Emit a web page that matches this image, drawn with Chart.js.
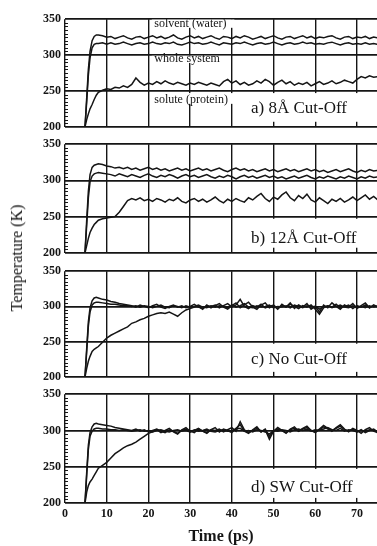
<!DOCTYPE html>
<html>
<head>
<meta charset="utf-8">
<script src="https://cdn.jsdelivr.net/npm/chart.js@4.4.0/dist/chart.umd.min.js"></script>
<style>
  html, body { margin: 0; padding: 0; background: #fff; overflow: hidden; }
  body { width: 377px; height: 546px; position: relative; }
  canvas { position: absolute; left: 0; }
  #ylab {
    position: absolute; left: 17px; top: 258px;
    transform: translate(-50%, -50%) rotate(-90deg);
    font: 16px 'Liberation Serif', 'Times New Roman', serif;
    white-space: nowrap; color: #111;
  }
</style>
</head>
<body>
<canvas id="pa"></canvas>
<canvas id="pb"></canvas>
<canvas id="pc"></canvas>
<canvas id="pd"></canvas>
<div id="ylab">Temperature (K)</div>
<script>
// time axis (ps)
const time = [4.8, 5.2, 5.6, 6, 6.5, 7, 7.5, 8, 9, 10,
  11, 12, 13, 14, 15, 16, 17, 18, 19, 20, 21, 22, 23, 24, 25, 26, 27, 28, 29, 30,
  31, 32, 33, 34, 35, 36, 37, 38, 39, 40, 41, 42, 43, 44, 45, 46, 47, 48, 49, 50,
  51, 52, 53, 54, 55, 56, 57, 58, 59, 60, 61, 62, 63, 64, 65, 66, 67, 68, 69, 70,
  71, 72, 73, 74, 75];
const xTicks = [0, 10, 20, 30, 40, 50, 60, 70];
const yTicks = [200, 250, 300, 350];

// a) 8 A cut-off
const solventA = [200, 240, 280, 305, 320, 326, 328, 328, 327, 325,
  326, 323, 325, 327, 324, 322, 325, 326, 323, 325, 327, 324, 326, 323, 325, 328, 324, 322, 325, 327,
  324, 326, 323, 325, 327, 324, 322, 326, 325, 323, 326, 324, 327, 325, 322, 324, 326, 323, 325, 327,
  324, 322, 325, 326, 323, 325, 327, 324, 326, 323, 325, 324, 326, 327, 324, 322, 325, 326, 323, 325,
  324, 326, 323, 325, 324];
const wholeA = [200, 235, 272, 296, 310, 315, 316, 316, 317, 315,
  317, 315, 316, 318, 316, 314, 316, 317, 315, 316, 318, 316, 315, 317, 316, 318, 315, 314, 316, 318,
  316, 317, 315, 316, 318, 316, 314, 317, 316, 315, 317, 316, 318, 316, 314, 316, 317, 315, 316, 318,
  316, 314, 316, 317, 315, 316, 318, 316, 317, 315, 316, 315, 317, 318, 316, 314, 316, 317, 315, 316,
  315, 317, 315, 316, 315];
const soluteA = [200, 210, 218, 225, 231, 238, 244, 248, 251, 253,
  252, 255, 254, 257, 255, 259, 268, 262, 258, 261, 259, 263, 260, 264, 261, 259, 262, 260, 258, 261,
  259, 262, 260, 258, 261, 259, 257, 263, 266, 261, 264, 259, 262, 258, 260, 264, 261, 266, 263, 258,
  262, 265, 260, 263, 258, 261, 259, 262, 257, 260, 263, 259, 261, 264, 260, 262, 265, 263, 261, 266,
  270, 268, 271, 269, 270];

// b) 12 A cut-off
const solventB = [200, 245, 285, 308, 318, 321, 322, 323, 322, 320,
  319, 317, 318, 316, 318, 315, 317, 314, 316, 318, 315, 317, 314, 316, 313, 315, 317, 314, 316, 313,
  315, 317, 314, 316, 313, 315, 317, 314, 312, 315, 317, 314, 316, 313, 315, 312, 314, 316, 313, 315,
  312, 314, 316, 313, 315, 312, 314, 316, 313, 315, 312, 314, 311, 313, 315, 312, 314, 316, 313, 311,
  314, 312, 315, 313, 314];
const wholeB = [200, 238, 276, 298, 306, 309, 310, 311, 310, 309,
  308, 306, 309, 307, 305, 308, 306, 304, 307, 309, 306, 304, 307, 305, 308, 306, 303, 306, 308, 305,
  307, 304, 306, 308, 305, 303, 306, 304, 307, 305, 302, 305, 307, 304, 306, 303, 305, 307, 304, 306,
  303, 305, 302, 304, 306, 303, 305, 307, 304, 302, 305, 303, 306, 304, 302, 305, 303, 306, 304, 302,
  305, 303, 306, 304, 305];
const soluteB = [200, 210, 220, 228, 234, 239, 242, 245, 247, 248,
  249, 250, 256, 264, 272, 275, 273, 276, 272, 274, 271, 275, 273, 270, 274, 272, 276, 271, 269, 273,
  275, 271, 274, 270, 273, 277, 272, 269, 274, 271, 275, 272, 270, 276, 273, 278, 282, 275, 271, 277,
  274, 280, 284, 276, 272, 279, 275, 281, 273, 270, 276, 272, 268, 274, 271, 275, 270, 273, 277, 272,
  276, 280, 274, 278, 273];

// c) no cut-off
const solventC = [200, 240, 278, 298, 308, 312, 313, 312, 310, 309,
  307, 306, 304, 303, 302, 301, 299, 302, 300, 298, 301, 303, 299, 297, 300, 302, 299, 301, 298, 300,
  303, 299, 297, 301, 300, 302, 298, 301, 304, 299, 302, 310, 300, 297, 301, 299, 303, 298, 300, 302,
  297, 301, 299, 303, 300, 297, 301, 299, 302, 296, 289, 298, 301, 299, 303, 298, 300, 302, 297, 301,
  299, 302, 298, 301, 300];
const wholeC = [200, 236, 272, 292, 302, 305, 306, 306, 305, 304,
  303, 303, 302, 301, 301, 300, 301, 299, 301, 300, 298, 300, 302, 299, 298, 301, 300, 298, 301, 299,
  300, 302, 299, 298, 301, 299, 301, 300, 298, 302, 299, 301, 304, 299, 298, 301, 299, 300, 302, 298,
  300, 299, 301, 298, 302, 300, 298, 301, 299, 300, 296, 299, 301, 298, 300, 302, 299, 298, 301, 299,
  300, 298, 301, 299, 300];
const soluteC = [200, 212, 222, 229, 236, 239, 241, 243, 249, 255,
  259, 262, 265, 268, 271, 276, 278, 281, 283, 286, 288, 290, 291, 290, 292, 289, 286, 291, 295, 297,
  299, 300, 296, 302, 298, 301, 304, 299, 296, 301, 305, 298, 302, 306, 299, 296, 302, 305, 298, 301,
  296, 303, 299, 305, 297, 302, 299, 304, 296, 300, 292, 302, 298, 305, 300, 296, 302, 299, 304, 297,
  301, 305, 298, 302, 299];

// d) SW cut-off
const solventD = [200, 242, 280, 297, 305, 309, 310, 309, 308, 307,
  306, 304, 303, 302, 301, 300, 302, 299, 301, 298, 300, 302, 299, 297, 301, 299, 296, 300, 302, 298,
  300, 303, 299, 297, 301, 300, 302, 298, 301, 304, 299, 312, 301, 297, 300, 303, 298, 301, 288, 299,
  302, 300, 297, 301, 303, 299, 302, 304, 300, 298, 301, 305, 302, 300, 303, 306, 301, 299, 302, 298,
  301, 297, 300, 302, 298];
const wholeD = [200, 238, 274, 292, 299, 302, 303, 303, 302, 302,
  301, 301, 300, 301, 300, 299, 300, 301, 299, 300, 298, 300, 301, 299, 298, 300, 301, 299, 300, 298,
  301, 299, 300, 302, 299, 298, 300, 301, 299, 300, 302, 303, 299, 300, 298, 301, 300, 298, 295, 300,
  299, 301, 300, 298, 301, 302, 300, 302, 299, 301, 300, 302, 304, 301, 300, 303, 299, 301, 300, 298,
  300, 299, 301, 300, 299];
const soluteD = [200, 215, 224, 229, 233, 238, 243, 248, 252, 256,
  262, 268, 272, 276, 279, 281, 284, 288, 292, 296, 298, 301, 297, 300, 303, 298, 295, 301, 304, 299,
  297, 302, 299, 296, 301, 304, 298, 302, 300, 297, 303, 308, 299, 296, 301, 305, 298, 302, 292, 299,
  304, 300, 296, 302, 305, 299, 303, 306, 300, 297, 302, 307, 303, 299, 304, 308, 302, 298, 303, 300,
  296, 301, 304, 299, 297];

const FONT = "'Liberation Serif', 'Times New Roman', serif";
const INK = '#151515';

// white label boxes, text and small inward ticks on the temperature axis
const deco = {
  id: 'deco',
  afterDatasetsDraw(chart, args, opts) {
    const { ctx, chartArea: a } = chart;
    const x = chart.scales.x, y = chart.scales.y;
    ctx.save();
    (opts.boxes || []).forEach(b => {
      const x0 = x.getPixelForValue(b[0]), x1 = x.getPixelForValue(b[1]);
      const y0 = y.getPixelForValue(b[3]), y1 = y.getPixelForValue(b[2]);
      ctx.fillStyle = '#fff';
      ctx.fillRect(x0, y0, Math.min(x1, a.right) - x0, y1 - y0);
    });
    (opts.notes || []).forEach(n => {
      ctx.font = n.size + 'px ' + FONT;
      ctx.fillStyle = INK;
      ctx.textAlign = 'left';
      ctx.textBaseline = 'middle';
      ctx.fillText(n.text, x.getPixelForValue(n.t), y.getPixelForValue(n.v));
    });
    ctx.strokeStyle = INK;
    ctx.lineWidth = 1;
    for (let v = 205; v < 350; v += 5) {
      if (v % 50 === 0) continue;
      const py = Math.round(y.getPixelForValue(v)) + 0.5;
      ctx.beginPath();
      ctx.moveTo(a.left, py);
      ctx.lineTo(a.left + 3, py);
      ctx.stroke();
    }
    ctx.restore();
  }
};

const panels = [
  { id: 'pa', top: 18, bottom: 128, series: [solventA, wholeA, soluteA],
    notes: [
      { text: 'solvent (water)', t: 21.4, v: 344, size: 12 },
      { text: 'whole system', t: 21.4, v: 295, size: 12 },
      { text: 'solute (protein)', t: 21.4, v: 238, size: 12 },
      { text: 'a) 8Å Cut-Off', t: 44.6, v: 226, size: 17 }
    ],
    boxes: [[20.8, 40.6, 338, 349.5], [20.8, 39.8, 289, 299], [20.8, 41.2, 232, 247],
            [41, 76, 207, 247]] },
  { id: 'pb', top: 143, bottom: 254, series: [solventB, wholeB, soluteB],
    notes: [{ text: 'b) 12Å Cut-Off', t: 44.6, v: 220, size: 17 }],
    boxes: [[41, 76, 207, 247]] },
  { id: 'pc', top: 270, bottom: 378, series: [solventC, wholeC, soluteC],
    notes: [{ text: 'c) No Cut-Off', t: 44.6, v: 225, size: 17 }],
    boxes: [[41, 76, 207, 247]] },
  { id: 'pd', top: 393, bottom: 503, series: [solventD, wholeD, soluteD],
    notes: [{ text: 'd) SW Cut-Off', t: 44.6, v: 222, size: 17 }],
    boxes: [[41, 76, 207, 247]], last: true }
];

panels.forEach(p => {
  const cv = document.getElementById(p.id);
  const h = p.last ? 546 - (p.top - 10) : (p.bottom - p.top) + 20;
  cv.width = 377;
  cv.height = h;
  cv.style.top = (p.top - 10) + 'px';
  const xHeight = h - 10 - (p.bottom - p.top);

  new Chart(cv.getContext('2d'), {
    type: 'line',
    data: {
      labels: time,
      datasets: p.series.map(s => ({
        data: s,
        borderColor: INK,
        borderWidth: 1.5,
        pointRadius: 0,
        tension: 0,
        fill: false
      }))
    },
    options: {
      responsive: false,
      animation: false,
      layout: { padding: { top: 10, left: 0, right: 0, bottom: 0 } },
      plugins: {
        legend: { display: false },
        tooltip: { enabled: false },
        deco: { notes: p.notes, boxes: p.boxes }
      },
      scales: {
        x: {
          type: 'linear',
          min: 0,
          max: 74.8,
          border: { display: false },
          grid: { color: INK, lineWidth: 1.4, drawTicks: false },
          afterBuildTicks: s => { s.ticks = xTicks.map(v => ({ value: v })); },
          afterFit: s => { s.height = xHeight; },
          ticks: {
            display: !!p.last,
            padding: 4,
            color: INK,
            font: { family: FONT, size: 12, weight: 'bold' }
          },
          title: {
            display: !!p.last,
            text: 'Time (ps)',
            color: INK,
            padding: { top: 2, bottom: 0 },
            font: { family: FONT, size: 16, weight: 'bold' }
          }
        },
        y: {
          min: 200,
          max: 350,
          border: { display: false },
          grid: { color: INK, lineWidth: 1.7, drawTicks: false },
          afterBuildTicks: s => { s.ticks = yTicks.map(v => ({ value: v })); },
          afterFit: s => { s.width = 65; },
          ticks: {
            padding: 4,
            color: INK,
            font: { family: FONT, size: 12, weight: 'bold' }
          }
        }
      }
    },
    plugins: [deco]
  });
});
</script>
</body>
</html>
